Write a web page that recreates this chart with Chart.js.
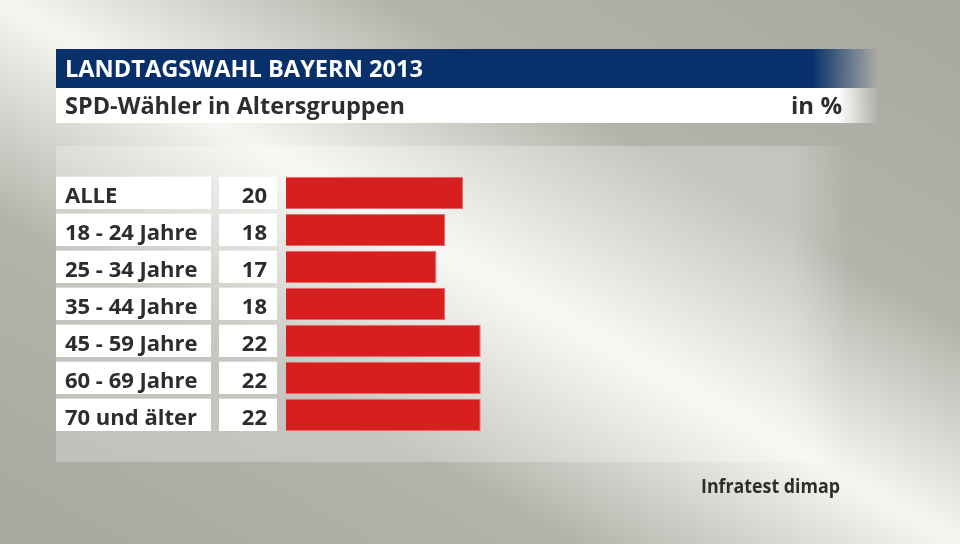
<!DOCTYPE html>
<html>
<head>
<meta charset="utf-8">
<script src="https://cdn.jsdelivr.net/npm/chart.js@4.4.1/dist/chart.umd.min.js"></script>
<style>
  html, body { margin: 0; padding: 0; background: #b3b2ab; }
  #wrap { width: 960px; height: 544px; }
</style>
</head>
<body>
<div id="wrap"><canvas id="chart" width="960" height="544"></canvas></div>
<script>
  // Daten
  const categories = ['ALLE', '18 - 24 Jahre', '25 - 34 Jahre', '35 - 44 Jahre', '45 - 59 Jahre', '60 - 69 Jahre', '70 und älter'];
  const values = [20, 18, 17, 18, 22, 22, 22];
  const title = 'LANDTAGSWAHL BAYERN 2013';
  const subtitle = 'SPD-Wähler in Altersgruppen';
  const unit = 'in %';
  const source = 'Infratest dimap';

  const FONT = '"Open Sans", "DejaVu Sans", sans-serif';
  const BLUE = '#08306b';
  const TEXT = '#2d2d2b';

  function fadeRect(ctx, x0, y0, x1, y1, fadeFrom, color, rgb) {
    const g = ctx.createLinearGradient(x0, 0, x1, 0);
    const f = (fadeFrom - x0) / (x1 - x0);
    g.addColorStop(0, color);
    g.addColorStop(f, color);
    g.addColorStop(1, 'rgba(' + rgb + ',0)');
    ctx.fillStyle = g;
    ctx.fillRect(x0, y0, x1 - x0, y1 - y0);
  }

  const decor = {
    id: 'decor',
    beforeDraw(chart) {
      const ctx = chart.ctx;
      const W = chart.width, H = chart.height;
      ctx.save();
      // Hintergrund: diagonales Lichtband
      const bg = ctx.createLinearGradient(713, -140, 247, 684);
      bg.addColorStop(0, '#a9a8a0');
      bg.addColorStop(0.3, '#b4b3ab');
      bg.addColorStop(0.5, '#f6f6f2');
      bg.addColorStop(0.7, '#b4b3ab');
      bg.addColorStop(1, '#a9a8a0');
      ctx.fillStyle = bg;
      ctx.fillRect(0, 0, W, H);

      // Panel hinter den Balken
      fadeRect(ctx, 56, 146, 850, 462, 790, 'rgba(255,255,255,0.25)', '255,255,255');

      // Kopfzeilen
      fadeRect(ctx, 56, 49, 878, 88, 812, BLUE, '8,48,107');
      fadeRect(ctx, 56, 88, 878, 123, 838, '#ffffff', '255,255,255');

      // Beschriftungsfelder
      const meta = chart.getDatasetMeta(0);
      ctx.fillStyle = '#ffffff';
      meta.data.forEach((bar) => {
        const h = bar.height;
        const top = bar.y - h / 2;
        ctx.fillRect(56, top, 155, h);
        ctx.fillRect(219, top, 58, h);
      });
      ctx.restore();
    },
    afterDraw(chart) {
      const ctx = chart.ctx;
      ctx.save();
      ctx.textBaseline = 'alphabetic';

      ctx.fillStyle = '#ffffff';
      ctx.font = 'bold 24px ' + FONT;
      ctx.textAlign = 'left';
      ctx.fillText(title, 65, 77, 358);

      ctx.fillStyle = TEXT;
      ctx.font = 'bold 24px ' + FONT;
      ctx.fillText(subtitle, 65, 114, 340);
      ctx.textAlign = 'right';
      ctx.fillText(unit, 842, 114);

      const meta = chart.getDatasetMeta(0);
      ctx.font = 'bold 22px ' + FONT;
      meta.data.forEach((bar, i) => {
        ctx.textAlign = 'left';
        ctx.fillText(categories[i], 65, bar.y + 10, 136);
        ctx.textAlign = 'right';
        ctx.fillText(String(values[i]), 267, bar.y + 10);
      });

      ctx.font = 'bold 19px ' + FONT;
      ctx.textAlign = 'right';
      ctx.fillText(source, 840, 493, 139);
      ctx.restore();
    }
  };

  new Chart(document.getElementById('chart'), {
    type: 'bar',
    data: {
      labels: categories,
      datasets: [{
        data: values,
        backgroundColor: '#d81f20',
        borderColor: '#e66a6a',
        borderWidth: 1,
        barPercentage: 0.873,
        categoryPercentage: 1
      }]
    },
    options: {
      indexAxis: 'y',
      responsive: false,
      animation: false,
      layout: { padding: { left: 286, right: 10.25, top: 174.35, bottom: 110.65 } },
      scales: {
        x: { display: false, min: 0, max: 75 },
        y: { display: false }
      },
      plugins: {
        legend: { display: false },
        tooltip: { enabled: false }
      }
    },
    plugins: [decor]
  });
</script>
</body>
</html>
